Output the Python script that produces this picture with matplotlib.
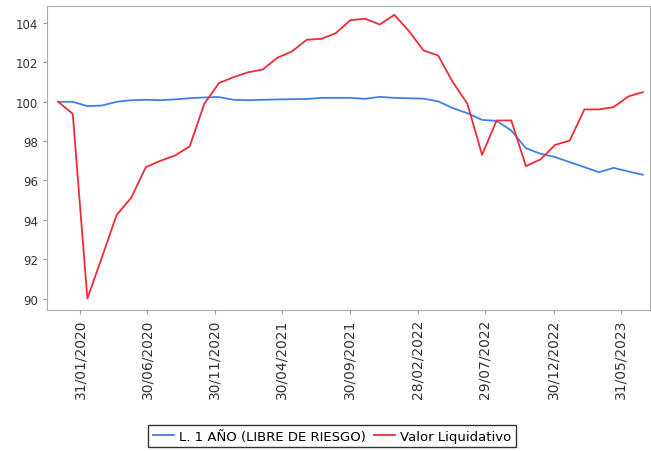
import matplotlib
matplotlib.use("Agg")
import matplotlib.pyplot as plt

# values
libre_riesgo = [100.0, 100.0, 99.78, 99.81, 100.0, 100.08, 100.1, 100.08, 100.12, 100.18,
                100.22, 100.24, 100.1, 100.08, 100.1, 100.12, 100.13, 100.14, 100.2, 100.2,
                100.2, 100.15, 100.25, 100.2, 100.18, 100.16, 100.02, 99.68, 99.42, 99.08,
                99.03, 98.54, 97.64, 97.36, 97.19, 96.93, 96.68, 96.42, 96.64, 96.46, 96.29]
valor_liq = [100.0, 99.39, 90.0, 92.1, 94.25, 95.12, 96.68, 97.0, 97.27, 97.73,
             99.9, 100.95, 101.25, 101.5, 101.64, 102.24, 102.56, 103.15, 103.2, 103.49,
             104.15, 104.22, 103.93, 104.42, 103.59, 102.61, 102.35, 101.0, 99.9, 97.3,
             99.05, 99.05, 96.73, 97.07, 97.81, 98.03, 99.61, 99.61, 99.73, 100.27, 100.49]
date_labels = ["31/01/2020", "30/06/2020", "30/11/2020", "30/04/2021", "30/09/2021",
               "28/02/2022", "29/07/2022", "30/12/2022", "31/05/2023"]
# tick positions along the point index (dates are not evenly spaced with points)
tick_pos = [1.5, 6.1, 10.7, 15.3, 19.95, 24.6, 29.2, 33.9, 38.5]

x = list(range(len(valor_liq)))

fig = plt.figure(figsize=(6.51, 4.52), dpi=100)
ax = fig.add_axes([0.072, 0.313, 0.926, 0.672])

ax.plot(x, libre_riesgo, color="#3f7fe8", lw=1.3, label="L. 1 AÑO (LIBRE DE RIESGO)")
ax.plot(x, valor_liq, color="#ee2b36", lw=1.3, label="Valor Liquidativo")

ax.set_xlim(-0.77, 40.47)
ax.set_ylim(89.44, 104.88)
ax.set_yticks([90, 92, 94, 96, 98, 100, 102, 104])
ax.set_xticks(tick_pos)
ax.set_xticklabels(date_labels, rotation=90)

for s in ax.spines.values():
    s.set_color("#aaaaaa")
ax.tick_params(axis="both", colors="#999999", labelcolor="#333333", length=3)
ax.tick_params(axis="y", labelsize=8.5)
ax.tick_params(axis="x", labelsize=10)

leg = fig.legend(loc="center", bbox_to_anchor=(0.51, 0.033), ncol=2, fontsize=8.5,
                 frameon=True, fancybox=False, handlelength=1.6, handletextpad=0.4,
                 columnspacing=0.6, borderpad=0.35, prop={"family": "Liberation Sans Narrow", "size": 9.5})
leg.get_frame().set_edgecolor("black")
leg.get_frame().set_linewidth(1.0)

fig.savefig("out.png", dpi=100)
